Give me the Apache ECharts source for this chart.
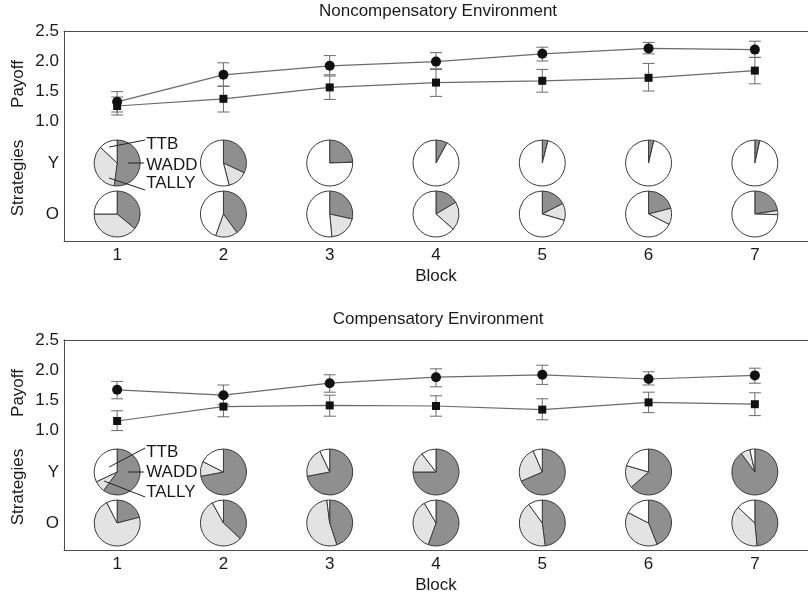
<!DOCTYPE html>
<html>
<head>
<meta charset="utf-8">
<title>Payoff and strategies by block</title>
<script src="https://cdn.jsdelivr.net/npm/echarts@6/dist/echarts.min.js"></script>
<style>
  html, body { margin: 0; padding: 0; background: #fff; }
  #chart { width: 808px; height: 596px; }
</style>
</head>
<body>
<div id="chart"></div>
<script>
// blocks on the x axis
const blocks = ['1', '2', '3', '4', '5', '6', '7']
const strategies = ['WADD', 'TALLY', 'TTB']
const payoffTicks = [1, 1.5, 2, 2.5]

// Noncompensatory environment, payoff (circles / squares) with error bars
const ncCircle = [1.32, 1.77, 1.92, 1.99, 2.12, 2.21, 2.19]
const ncCircleLo = [1.15, 1.58, 1.77, 1.87, 2.00, 2.12, 2.06]
const ncCircleHi = [1.49, 1.97, 2.09, 2.14, 2.23, 2.31, 2.33]
const ncSquare = [1.25, 1.37, 1.56, 1.64, 1.67, 1.72, 1.84]
const ncSquareLo = [1.10, 1.15, 1.36, 1.41, 1.48, 1.50, 1.62]
const ncSquareHi = [1.40, 1.58, 1.75, 1.86, 1.86, 1.96, 2.06]

// Compensatory environment
const cCircle = [1.67, 1.58, 1.78, 1.88, 1.92, 1.85, 1.91]
const cCircleLo = [1.52, 1.42, 1.63, 1.72, 1.76, 1.75, 1.78]
const cCircleHi = [1.81, 1.75, 1.92, 2.02, 2.08, 1.97, 2.03]
const cSquare = [1.15, 1.39, 1.41, 1.40, 1.34, 1.46, 1.43]
const cSquareLo = [0.99, 1.22, 1.23, 1.23, 1.17, 1.29, 1.24]
const cSquareHi = [1.32, 1.56, 1.58, 1.57, 1.52, 1.63, 1.62]

// strategy shares per block: [WADD, TALLY, TTB]
const ncYoung = [
  [0.52, 0.35, 0.13], [0.32, 0.14, 0.54], [0.245, 0, 0.755], [0.08, 0, 0.92],
  [0.04, 0, 0.96], [0.037, 0, 0.963], [0.035, 0, 0.965]
]
const ncOld = [
  [0.36, 0.39, 0.25], [0.40, 0.155, 0.445], [0.285, 0.2, 0.515], [0.165, 0.2, 0.635],
  [0.175, 0.12, 0.705], [0.21, 0.115, 0.675], [0.225, 0.03, 0.745]
]
const cYoung = [
  [0.60, 0.08, 0.32], [0.72, 0.105, 0.175], [0.72, 0.21, 0.07], [0.75, 0.145, 0.105],
  [0.685, 0.25, 0.065], [0.635, 0.16, 0.205], [0.90, 0.065, 0.035]
]
const cOld = [
  [0.21, 0.715, 0.075], [0.37, 0.55, 0.08], [0.45, 0.53, 0.02], [0.555, 0.36, 0.085],
  [0.48, 0.42, 0.10], [0.44, 0.385, 0.175], [0.485, 0.385, 0.13]
]

const FONT = "'Liberation Sans', Arial, sans-serif"
const textColor = '#1a1a1a'
const frameColor = '#4d4d4d'
const lineColor = '#6b6b6b'
const sliceColors = ['#8f8f8f', '#e3e3e3', '#ffffff']
// rows of the strategy pies, in payoff-axis units
const rowYoung = 0.3
const rowOld = -0.55

const panels = [
  {
    title: 'Noncompensatory Environment', top: 31, titleTop: 3,
    circle: ncCircle, circleLo: ncCircleLo, circleHi: ncCircleHi,
    square: ncSquare, squareLo: ncSquareLo, squareHi: ncSquareHi,
    young: ncYoung, old: ncOld,
    // leader lines of the strategy labels, relative to the first pie
    leaders: [[-8, -16, 28, -23], [11, 0, 27, 0], [-8, 15, 28, 27]],
    labelDy: [-19, 2, 20]
  },
  {
    title: 'Compensatory Environment', top: 340, titleTop: 311,
    circle: cCircle, circleLo: cCircleLo, circleHi: cCircleHi,
    square: cSquare, squareLo: cSquareLo, squareHi: cSquareHi,
    young: cYoung, old: cOld,
    leaders: [[-8, -5, 28, -24], [11, 0, 27, 0], [-13, 9, 28, 25]],
    labelDy: [-20, 0, 20]
  }
]

const txt = { fontFamily: FONT, fontSize: 17, color: textColor }

function errorBars(g, lo, hi) {
  return {
    type: 'custom',
    xAxisIndex: g * 2,
    yAxisIndex: g,
    silent: true,
    z: 2,
    encode: { x: 0, y: [1, 2] },
    data: blocks.map((b, i) => [i, lo[i], hi[i]]),
    renderItem: function (params, api) {
      const a = api.coord([api.value(0), api.value(1)])
      const b = api.coord([api.value(0), api.value(2)])
      const w = 6
      const style = { stroke: lineColor, lineWidth: 1 }
      return {
        type: 'group',
        children: [
          { type: 'line', shape: { x1: a[0], y1: a[1], x2: b[0], y2: b[1] }, style: style },
          { type: 'line', shape: { x1: a[0] - w, y1: a[1], x2: a[0] + w, y2: a[1] }, style: style },
          { type: 'line', shape: { x1: b[0] - w, y1: b[1], x2: b[0] + w, y2: b[1] }, style: style }
        ]
      }
    }
  }
}

function payoffLine(g, values, symbol, size) {
  return {
    type: 'line',
    xAxisIndex: g * 2,
    yAxisIndex: g,
    data: values,
    symbol: symbol,
    symbolSize: size,
    showSymbol: true,
    z: 3,
    itemStyle: { color: '#111' },
    lineStyle: { color: lineColor, width: 1.2 }
  }
}

const chart = echarts.init(document.getElementById('chart'))

const grids = []
const xAxes = []
const yAxes = []
const titles = []
let series = []

panels.forEach((p, g) => {
  grids.push({ left: 64, top: p.top, width: 749, height: 210 })
  titles.push({
    text: p.title, left: 438, top: p.titleTop, textAlign: 'center', padding: 0,
    textStyle: { fontFamily: FONT, fontSize: 17, fontWeight: 'normal', color: textColor }
  })
  xAxes.push({
    type: 'category', gridIndex: g, data: blocks, position: 'bottom',
    axisLine: { onZero: false, lineStyle: { color: frameColor } },
    axisTick: { alignWithLabel: true, inside: true, length: 3, lineStyle: { color: frameColor } },
    axisLabel: Object.assign({ margin: 6 }, txt),
    name: 'Block', nameLocation: 'middle', nameGap: 27, nameTextStyle: txt
  })
  xAxes.push({
    type: 'category', gridIndex: g, data: blocks, position: 'top',
    axisLine: { onZero: false, lineStyle: { color: frameColor } },
    axisTick: { alignWithLabel: true, inside: true, length: 3, lineStyle: { color: frameColor } },
    axisLabel: { show: false }
  })
  yAxes.push({
    type: 'value', gridIndex: g, min: -1, max: 2.5,
    splitLine: { show: false },
    axisLine: { show: true, lineStyle: { color: frameColor } },
    axisTick: { show: false },
    axisLabel: Object.assign({
      margin: 5,
      customValues: [rowOld, rowYoung].concat(payoffTicks),
      formatter: function (v) {
        if (Math.abs(v - rowYoung) < 1e-6) return 'Y'
        if (Math.abs(v - rowOld) < 1e-6) return 'O'
        return v.toFixed(1)
      }
    }, txt)
  })
  series.push(errorBars(g, p.circleLo, p.circleHi))
  series.push(errorBars(g, p.squareLo, p.squareHi))
  series.push(payoffLine(g, p.circle, 'circle', 10))
  series.push(payoffLine(g, p.square, 'rect', 8))
})

chart.setOption({
  animation: false,
  title: titles,
  grid: grids,
  xAxis: xAxes,
  yAxis: yAxes,
  series: series
})

// pies are placed on the block / row positions of each panel
const graphics = []
panels.forEach((p, g) => {
  [[p.young, rowYoung], [p.old, rowOld]].forEach(([shares, row]) => {
    shares.forEach((s, i) => {
      const c = chart.convertToPixel({ gridIndex: g }, [blocks[i], row])
      series.push({
        type: 'pie',
        center: c,
        radius: 23,
        startAngle: 90,
        clockwise: true,
        silent: true,
        label: { show: false },
        labelLine: { show: false },
        itemStyle: { borderColor: '#3a3a3a', borderWidth: 1 },
        data: strategies.map((name, k) => ({
          name: name, value: s[k], itemStyle: { color: sliceColors[k] }
        }))
      })
    })
  })

  // strategy labels next to the first young pie
  const c0 = chart.convertToPixel({ gridIndex: g }, [blocks[0], rowYoung])
  const labels = ['TTB', 'WADD', 'TALLY']
  labels.forEach((name, k) => {
    const l = p.leaders[k]
    graphics.push({
      type: 'line', z: 10,
      shape: { x1: c0[0] + l[0], y1: c0[1] + l[1], x2: c0[0] + l[2], y2: c0[1] + l[3] },
      style: { stroke: '#222', lineWidth: 1 }
    })
    graphics.push({
      type: 'text', z: 10,
      x: c0[0] + 29, y: c0[1] + p.labelDy[k],
      style: { text: name, font: '17px ' + FONT, fill: textColor, verticalAlign: 'middle' }
    })
  })

  // rotated axis captions
  const top = p.top
  graphics.push({
    type: 'text', x: 18, y: top + 53, rotation: Math.PI / 2,
    style: { text: 'Payoff', font: '17px ' + FONT, fill: textColor, align: 'center', verticalAlign: 'middle' }
  })
  graphics.push({
    type: 'text', x: 18, y: top + 147, rotation: Math.PI / 2,
    style: { text: 'Strategies', font: '17px ' + FONT, fill: textColor, align: 'center', verticalAlign: 'middle' }
  })
})

chart.setOption({ series: series, graphic: graphics })
</script>
</body>
</html>
